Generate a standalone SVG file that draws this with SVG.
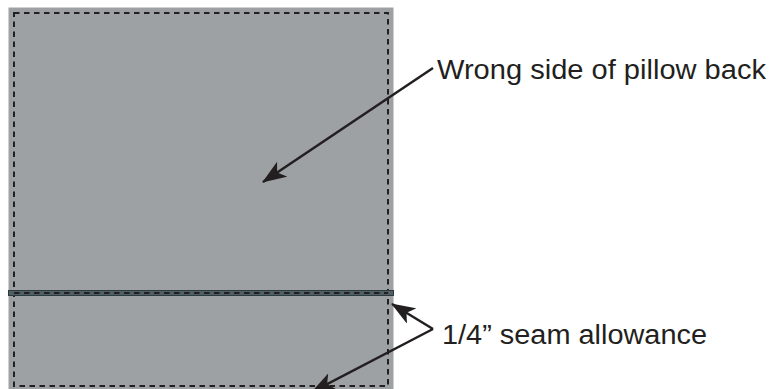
<svg xmlns="http://www.w3.org/2000/svg" width="776" height="389" viewBox="0 0 776 389">
<style>
.fabric{fill:#9da1a4}
.stitch{fill:none;stroke:#231f20;stroke-width:2;stroke-dasharray:5.5 4.5}
.seam{fill:#4e6066;stroke:#2e3a3e;stroke-width:1}
.lead{fill:none;stroke:#231f20;stroke-width:2.5}
.label{font-family:"Liberation Sans",Arial,sans-serif;font-size:27px;fill:#231f20}
</style>
<defs>
<marker id="arr" viewBox="0 0 24 18" refX="23" refY="9" markerWidth="24" markerHeight="18" markerUnits="userSpaceOnUse" orient="auto">
<path d="M0,0 L24,9 L0,18 L6,9 Z" fill="#231f20"/>
</marker>
</defs>
<g id="pillow-back">
<rect class="fabric" x="8.5" y="7.5" width="385" height="385"/>
<rect class="stitch" x="14" y="13" width="374" height="373"/>
</g>
<g id="seam">
<rect class="seam" x="8.5" y="290.5" width="385" height="5"/>
<line x1="14" y1="293" x2="388" y2="293" stroke="#231f20" stroke-width="2" stroke-dasharray="5.5 4.5"/>
</g>
<g id="connectors">
<line class="lead" x1="433" y1="68" x2="263" y2="182" marker-end="url(#arr)"/>
<line class="lead" x1="433" y1="329" x2="392" y2="304" marker-end="url(#arr)"/>
<line class="lead" x1="433" y1="329" x2="312" y2="392" marker-end="url(#arr)"/>
</g>
<g id="label-wrong-side">
<text class="label" x="437" y="79" textLength="329" lengthAdjust="spacingAndGlyphs">Wrong side of pillow back</text>
</g>
<g id="label-seam">
<text class="label" x="442" y="344" textLength="265" lengthAdjust="spacingAndGlyphs">1/4” seam allowance</text>
</g>
</svg>
